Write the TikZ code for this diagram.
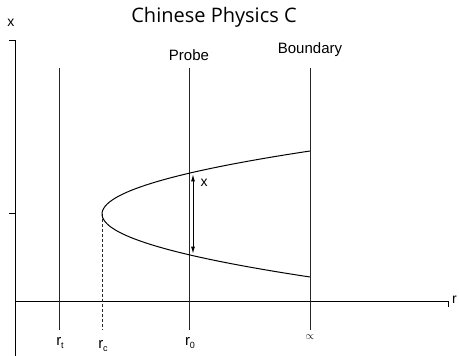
\documentclass[tikz,border=0pt]{standalone}
\usepackage{fontspec}
\setmainfont{Liberation Sans}
\newfontfamily\titlefont{Open Sans}
\usetikzlibrary{arrows.meta}
\tikzset{
  >={Latex[length=2.6mm,width=1.4mm]},
  axis/.style={line width=1pt,black},
  wall/.style={line width=0.9pt,black!85},
  lbl/.style={font=\fontsize{14}{16}\selectfont,inner sep=0pt},
  rlbl/.style={font=\fontsize{15}{17}\selectfont,inner sep=0pt},
}
\begin{document}
\begin{tikzpicture}[x=1pt,y=-1pt]
  \useasboundingbox (0,0) rectangle (459,356);
  % title
  \node[font=\titlefont\fontsize{20}{22}\selectfont,inner sep=0pt] (title) at (214,17) {Chinese Physics C};
  % axes
  \coordinate (o) at (15,301);
  \coordinate (ytop) at (15,40);
  \coordinate (ybot) at (15,356);
  \coordinate (xend) at (448,301);
  \draw[axis] (ybot) -- (ytop) -- ++(-6,0);
  \draw[axis] (o) -- (xend) -- ++(0,6);
  \draw[axis] (15,213) -- ++(-6,0);
  \node[lbl] (ylab) at (11,23) {x};
  \node[lbl,anchor=west] (xlab) at (452,300) {r};
  % vertical lines
  \coordinate (tt) at (59,68);   \coordinate (tb) at (59,330);
  \coordinate (pt) at (189,68);  \coordinate (pb) at (189,330);
  \coordinate (bt) at (310,68);  \coordinate (bb) at (310,330);
  \coordinate (vtx) at (102,214); \coordinate (cb) at (102,330);
  \draw[wall] (tt) -- (tb);
  \draw[wall] (pt) -- (pb);
  \draw[wall] (bt) -- (bb);
  \draw[wall,densely dashed] (vtx) -- (cb);
  \node[rlbl] (probe) at (189,55) {Probe};
  \node[rlbl] (bound) at (310,50) {Boundary};
  % radial labels
  \node[rlbl] (rt) at (60,343) {r\raisebox{-3pt}{\fontsize{9}{10}\selectfont t}};
  \node[rlbl] (rc) at (103,346) {r\raisebox{-3pt}{\fontsize{9}{10}\selectfont c}};
  \node[rlbl] (r0) at (190,343) {r\raisebox{-3pt}{\fontsize{9}{10}\selectfont 0}};
  \node[font=\fontsize{11}{13}\selectfont,inner sep=0pt] (rinf) at (310,337) {$\propto$};
  % string profile
  \draw[line width=1pt] plot[domain=151:277,samples=60,smooth] ({102+0.0524*(\x-214)^2},\x);
  \coordinate (up) at (193,174);
  \coordinate (dn) at (193,254);
  \draw[<->,line width=1pt] (up) -- (dn);
  \node[lbl] (xsep) at (204,183) {x};
\end{tikzpicture}
\end{document}
